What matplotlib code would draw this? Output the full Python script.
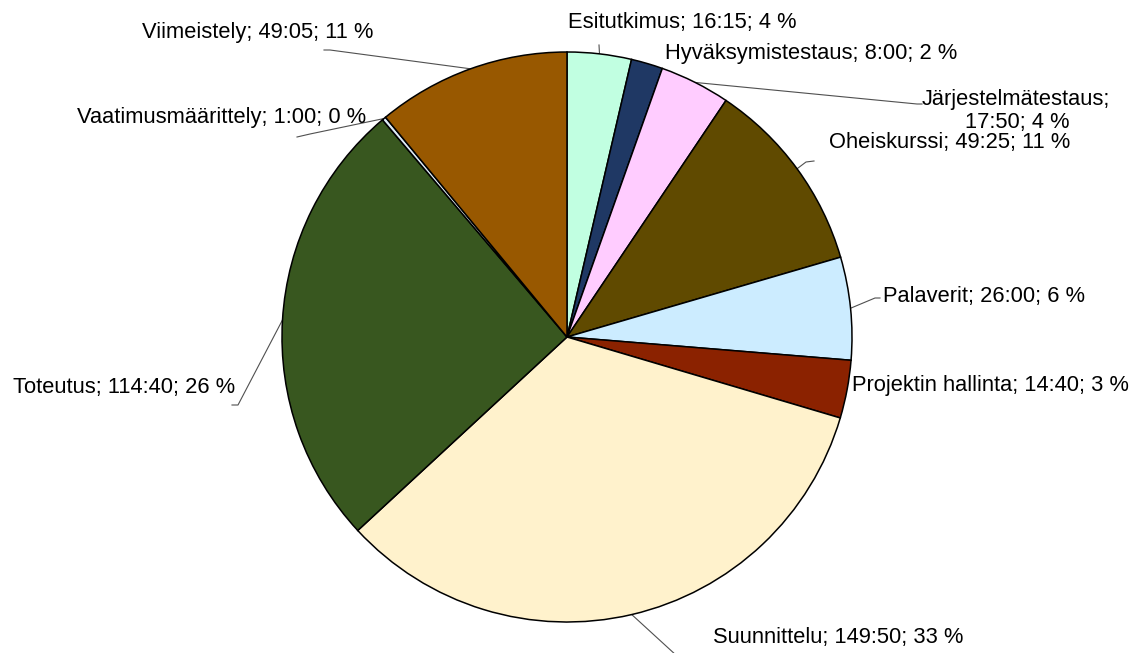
import matplotlib
matplotlib.use('Agg')
import matplotlib.pyplot as plt
import numpy as np

categories = ["Esitutkimus", "Hyväksymistestaus", "Järjestelmätestaus", "Oheiskurssi",
              "Palaverit", "Projektin hallinta", "Suunnittelu", "Toteutus",
              "Vaatimusmäärittely", "Viimeistely"]
durations = ["16:15", "8:00", "17:50", "49:25", "26:00", "14:40", "149:50", "114:40", "1:00", "49:05"]
percents = [4, 2, 4, 11, 6, 3, 33, 26, 0, 11]
colors = ["#C1FFE1", "#1F3864", "#FFCCFF", "#604A00", "#CCECFF", "#8B2200",
          "#FFF2CC", "#38571F", "#DDEBF7", "#985800"]

minutes = [int(h) * 60 + int(m) for h, m in (d.split(':') for d in durations)]

W, H = 1132, 653
plt.rcParams['font.family'] = ['Liberation Sans', 'DejaVu Sans']
fig = plt.figure(figsize=(W / 100, H / 100), dpi=100)
ax = fig.add_axes([0, 0, 1, 1])
cx, cy, r = 567, H - 337, 285
wedges, _ = ax.pie(minutes, colors=colors, startangle=90, counterclock=False,
                   center=(cx, cy), radius=r, frame=True,
                   wedgeprops=dict(edgecolor='black', linewidth=1.1))
ax.set_xlim(0, W)
ax.set_ylim(0, H)
ax.set_aspect('equal')
ax.axis('off')

# label layout: (x, baseline y in image px, leader route after edge point)
layout = [
    (568, 28, [(599, 45)]),
    (665, 59, []),
    (None, None, [(917, 104), (922, 104)]),
    (829, 148, [(806, 162), (814, 161)]),
    (883, 302, [(875, 298), (880, 298)]),
    (852, 391, []),
    (713, 643, [(677, 656)]),
    (13, 393, [(238, 405), (232, 405)]),
    (77, 123, [(310, 134), (297, 137)]),
    (142, 38, [(330, 50), (324, 50)]),
]

fs = 15.75
for i, (w, cat, dur, pct) in enumerate(zip(wedges, categories, durations, percents)):
    x, y, route = layout[i]
    label = f"{cat}; {dur}; {pct} %"
    if x is None:
        ax.text(1016, H - 105, f"{cat};", ha='center', va='baseline', fontsize=fs)
        ax.text(1017, H - 128, f"{dur}; {pct} %", ha='center', va='baseline', fontsize=fs)
    else:
        ax.text(x, H - y, label, ha='left', va='baseline', fontsize=fs)
    if route:
        mid = np.deg2rad((w.theta1 + w.theta2) / 2)
        px = [cx + r * np.cos(mid)] + [p[0] for p in route]
        py = [cy + r * np.sin(mid)] + [H - p[1] for p in route]
        ax.plot(px, py, color='#505050', lw=0.8, zorder=0.5, clip_on=False)

fig.savefig('out.png', dpi=100)
